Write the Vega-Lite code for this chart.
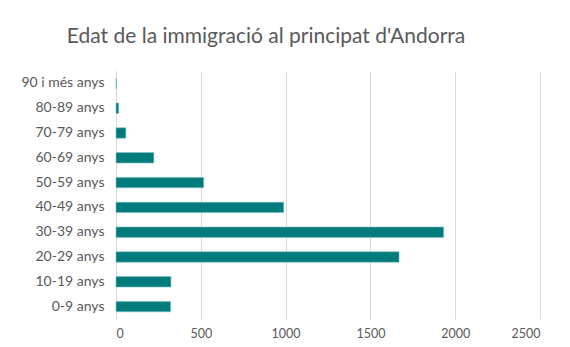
{
  "$schema": "https://vega.github.io/schema/vega-lite/v6.json",
  "width": 424,
  "height": 248,
  "autosize": {"type": "none"},
  "padding": {"left": 116, "top": 71, "right": 30, "bottom": 28},
  "background": "white",
  "title": {
    "text": "Edat de la immigració al principat d'Andorra",
    "font": "Lato",
    "fontSize": 21,
    "fontWeight": "normal",
    "color": "#595959",
    "anchor": "middle",
    "baseline": "alphabetic",
    "dx": -62,
    "offset": 7
  },
  "data": {
    "values": [
      {"edat": "90 i més anys", "n": 3},
      {"edat": "80-89 anys", "n": 16},
      {"edat": "70-79 anys", "n": 58},
      {"edat": "60-69 anys", "n": 223},
      {"edat": "50-59 anys", "n": 517},
      {"edat": "40-49 anys", "n": 989},
      {"edat": "30-39 anys", "n": 1932},
      {"edat": "20-29 anys", "n": 1669},
      {"edat": "10-19 anys", "n": 324},
      {"edat": "0-9 anys", "n": 322}
    ]
  },
  "mark": {"type": "bar", "color": "#017B7B", "stroke": "#7fc0bf", "strokeWidth": 0.6},
  "encoding": {
    "y": {
      "field": "edat",
      "type": "nominal",
      "sort": null,
      "scale": {"paddingInner": 0.58, "paddingOuter": 0.29},
      "axis": {
        "title": null,
        "domain": true,
        "domainColor": "#d9d9d9",
        "ticks": false,
        "labelPadding": 12,
        "labelFont": "Lato",
        "labelFontSize": 14,
        "labelColor": "#595959"
      }
    },
    "x": {
      "field": "n",
      "type": "quantitative",
      "scale": {"domain": [0, 2500], "nice": false},
      "axis": {
        "title": null,
        "values": [0, 500, 1000, 1500, 2000, 2500],
        "format": "d",
        "grid": true,
        "gridColor": "#d9d9d9",
        "domain": false,
        "ticks": false,
        "labelPadding": 8,
        "labelFont": "Lato",
        "labelFontSize": 12.5,
        "labelColor": "#595959"
      }
    }
  },
  "config": {"view": {"stroke": null}}
}
